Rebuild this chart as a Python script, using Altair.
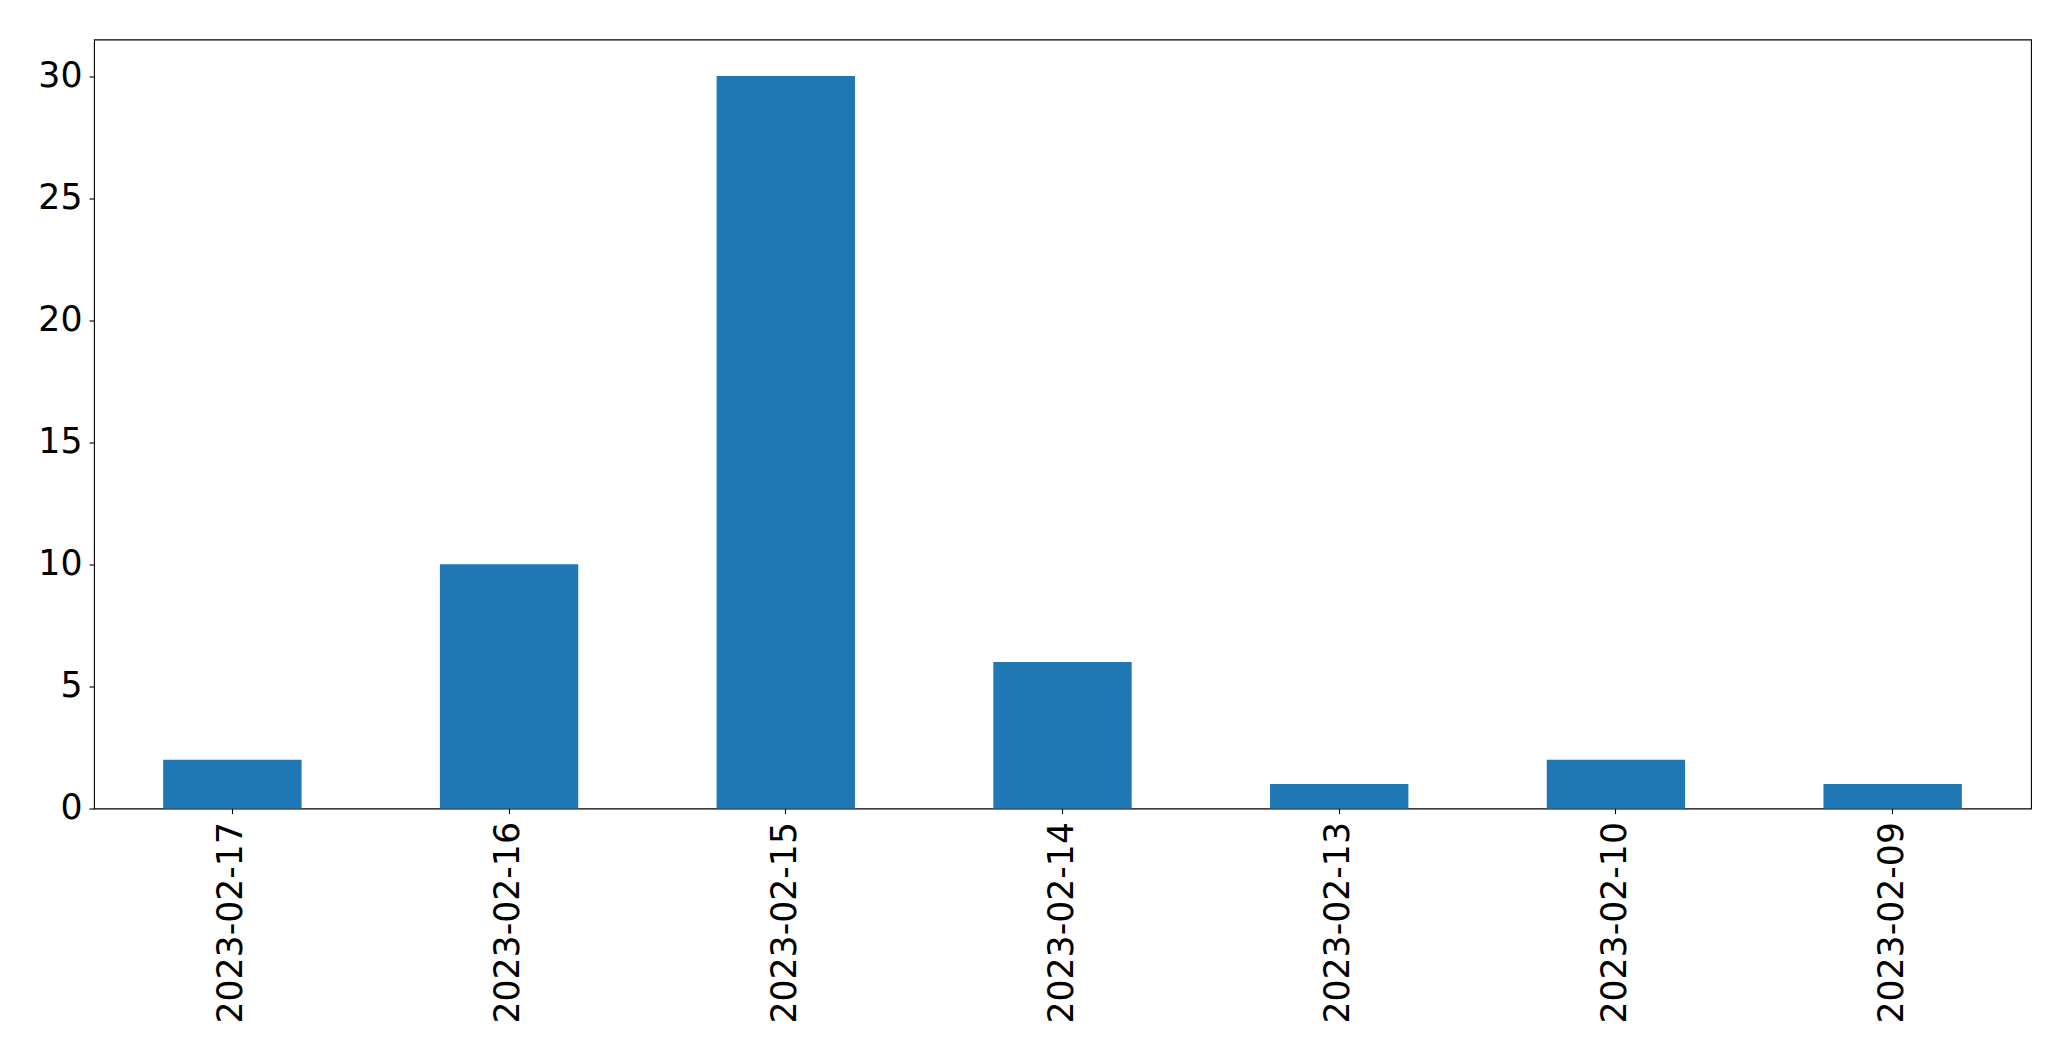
import altair as alt
import pandas as pd

dates = ["2023-02-17", "2023-02-16", "2023-02-15", "2023-02-14", "2023-02-13", "2023-02-10", "2023-02-09"]
counts = [2, 10, 30, 6, 1, 2, 1]

df = pd.DataFrame({"date": dates, "count": counts})

chart = alt.Chart(df).mark_bar(color="#1f77b4").encode(
    x=alt.X("date:N", sort=None, title=None,
            scale=alt.Scale(paddingInner=0.5, paddingOuter=0.25),
            axis=alt.Axis(labelAngle=270, labelFontSize=34.7, labelFont="DejaVu Sans",
                          labelColor="black", tickColor="black", tickSize=5, tickWidth=1.1,
                          labelPadding=8, domain=False, grid=False, labelAlign="right",
                          labelBaseline="middle", labelLimit=0)),
    y=alt.Y("count:Q", title=None,
            scale=alt.Scale(domain=[0, 31.5], nice=False),
            axis=alt.Axis(values=[0, 5, 10, 15, 20, 25, 30], labelFontSize=34.7,
                          labelFont="DejaVu Sans", labelColor="black", tickColor="black",
                          tickSize=5, tickWidth=1.1, labelPadding=7, domain=False, grid=False)),
).properties(
    width=1937, height=769,
    autosize=alt.AutoSizeParams(type="none"),
    padding={"left": 86, "top": 31.5, "right": 30, "bottom": 235},
).configure_view(stroke="black", strokeWidth=1.1)

chart.save("out.html", embed_options={"renderer": "svg", "actions": False})
